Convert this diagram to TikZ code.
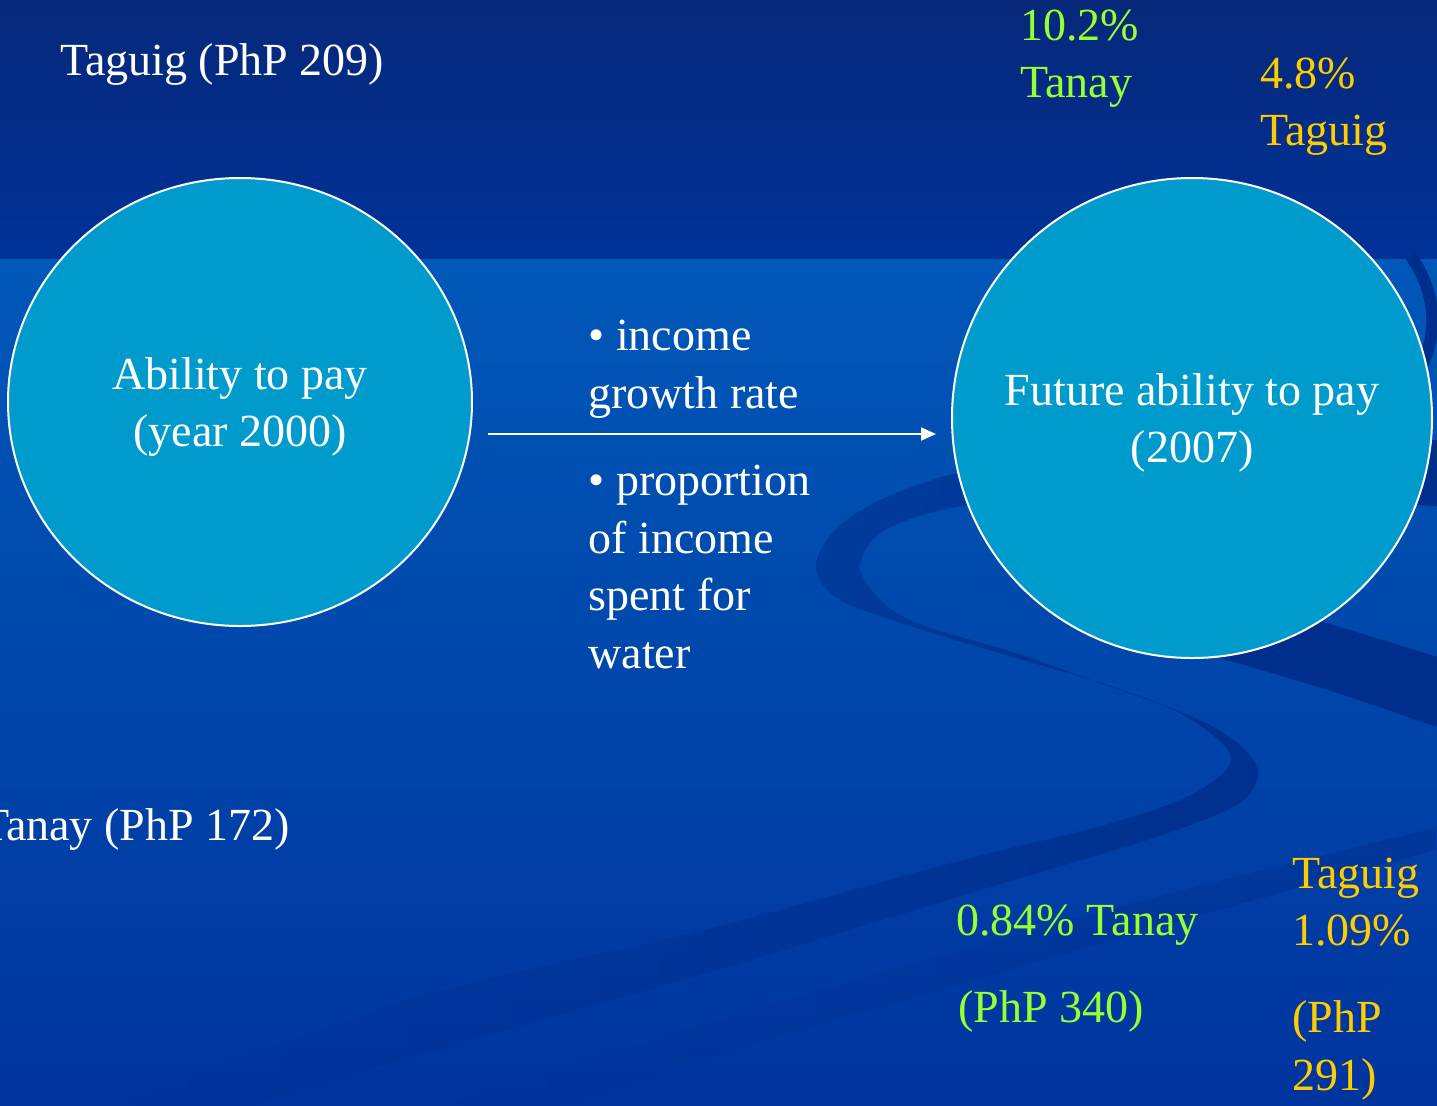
\documentclass[tikz,border=0pt]{standalone}
\usepackage{fontspec}
\setmainfont{Liberation Serif}
\usetikzlibrary{shapes.geometric,arrows.meta,fadings}
\definecolor{topA}{RGB}{6,40,122}
\definecolor{topB}{RGB}{0,50,152}
\definecolor{lowA}{RGB}{0,88,184}
\definecolor{lowB}{RGB}{0,52,158}
\definecolor{ribbon}{RGB}{0,46,140}
\definecolor{disc}{RGB}{0,155,205}
\definecolor{lime}{RGB}{153,255,51}
\definecolor{gold}{RGB}{255,204,0}
\tikzfading[name=ribfade, left color=transparent!100, middle color=transparent!10, right color=transparent!0]
\begin{document}
\begin{tikzpicture}[x=0.5pt,y=-0.5pt,
  txt/.style={font=\fontsize{23}{28.8}\selectfont, inner sep=0pt, anchor=base west},
  bubble/.style={draw=white, line width=1pt, fill=disc, inner sep=0pt, align=center,
    text=white, font=\fontsize{23}{28.8}\selectfont},
  rib/.style={fill=ribbon}]
\useasboundingbox (0,0) rectangle (1437,1105);
\clip (0,0) rectangle (1437,1105);
% background
\shade[top color=lowA, bottom color=lowB] (0,258) rectangle (1437,1105);
\shade[top color=topA, bottom color=topB] (0,0) rectangle (1437,258);
% ribbons
\fill[rib, path fading=ribfade] plot[smooth,tension=0.55] coordinates {(1437,440) (1200,452) (1050,462) (957,473) (880,500) (835,530) (816,567) (840,600) (923,630) (1013,657) (1123,690) (1210,725) (1250,755) (1257,780) (1233,807) (1147,840) (1000,884) (700,975) (400,1060) (250,1105)}
  -- plot[smooth,tension=0.55] coordinates {(120,1105) (408,1000) (700,931) (963,860) (1097,827) (1180,800) (1223,773) (1228,750) (1180,713) (1100,683) (1013,652) (925,626) (885,604) (860,567) (885,530) (967,505) (1100,498) (1300,500) (1437,506)} -- cycle;
\draw[ribbon, line width=6pt] (1410,255) .. controls (1435,290) and (1440,330) .. (1420,370);
\fill[rib] (1240,600) -- (1323,622) .. controls (1370,636) .. (1437,657) -- (1437,727) .. controls (1330,690) .. (1217,657) -- (1170,640) -- cycle;
\fill[rib, opacity=0.5, path fading=ribfade] (1437,828) .. controls (1200,885) .. (953,953) .. controls (700,1025) .. (446,1105) -- (560,1105) .. controls (760,1040) .. (953,987) .. controls (1200,915) .. (1437,850) -- cycle;
% circles
\node[bubble, ellipse, minimum width=232pt, minimum height=224pt] (now) at (240,402) {\rule{0pt}{21pt}Ability to pay\\(year 2000)};
\node[bubble, circle, minimum size=240pt] (future) at (1192,418) {\rule{0pt}{21pt}Future ability to pay\\(2007)};
% arrow
\coordinate (a1) at (488,434);
\coordinate (a2) at (936,434);
\draw[white, line width=1pt, -{Triangle[length=7.5pt,width=6.5pt]}] (a1) -- (a2);
% labels
\node[txt, white] (tag209) at (60,75) {Taguig (PhP 209)};
\node[txt, lime] (p102) at (1020,40) {10.2\%};
\node[txt, lime] (tanayA) at (1020,97) {Tanay};
\node[txt, gold] (p48) at (1260,88) {4.8\%};
\node[txt, gold] (taguigA) at (1260,145) {Taguig};
\node[txt, white] (b1) at (588,350) {\textbullet\ income};
\node[txt, white] (b1b) at (588,408) {growth rate};
\node[txt, white] (b2) at (588,495) {\textbullet\ proportion};
\node[txt, white] (b2b) at (588,553) {of income};
\node[txt, white] (b2c) at (588,610) {spent for};
\node[txt, white] (b2d) at (588,668) {water};
\node[txt, white, anchor=base east] (tan172) at (290,840) {Tanay (PhP 172)};
\node[txt, lime] (p084) at (956,935) {0.84\% Tanay};
\node[txt, lime] (php340) at (958,1022) {(PhP 340)};
\node[txt, gold] (taguigB) at (1292,888) {Taguig};
\node[txt, gold] (p109) at (1292,945) {1.09\%};
\node[txt, gold] (php291a) at (1292,1032) {(PhP};
\node[txt, gold] (php291b) at (1292,1090) {291)};
\end{tikzpicture}
\end{document}
